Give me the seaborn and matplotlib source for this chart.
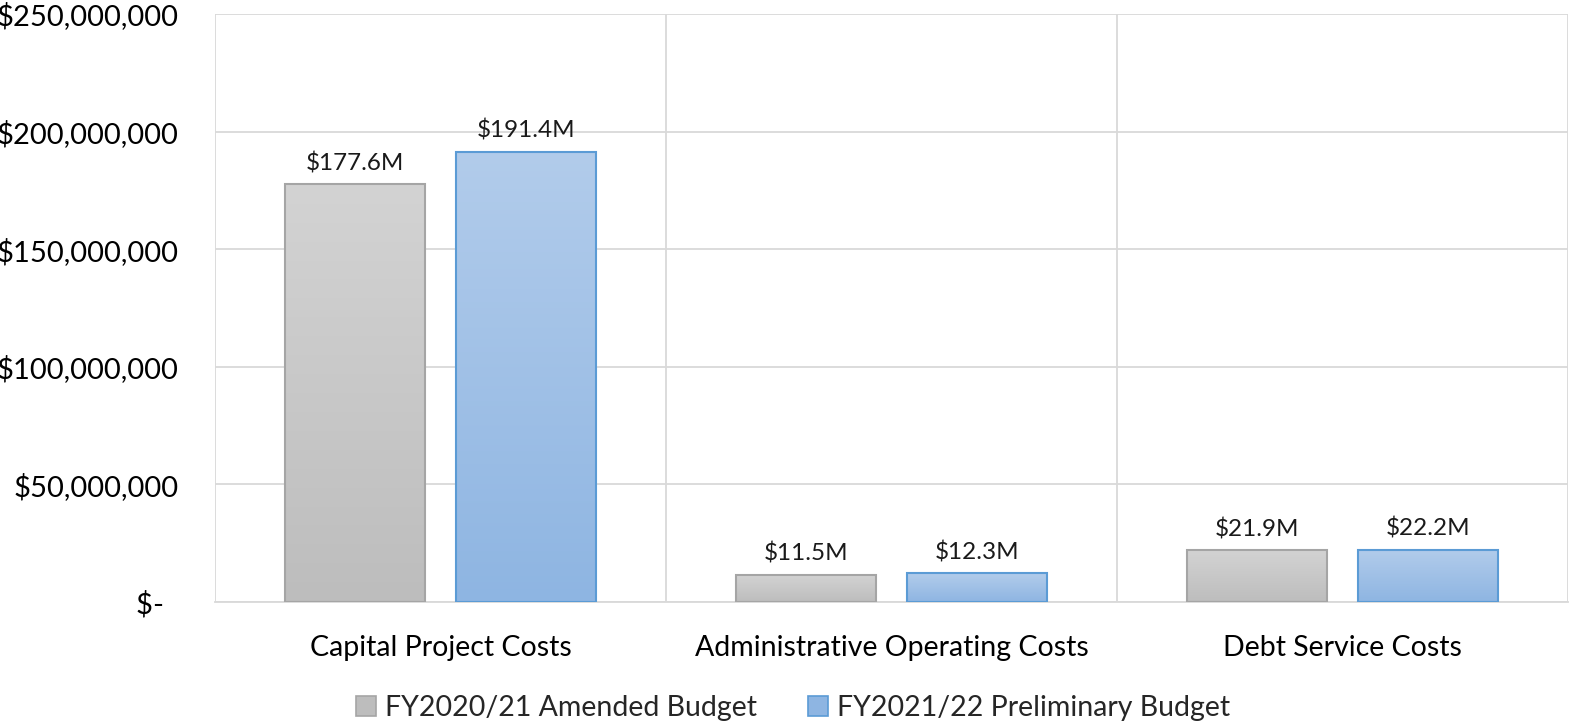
import numpy as np
import pandas as pd
import matplotlib
matplotlib.use("Agg")
import matplotlib.pyplot as plt
import seaborn as sns
from matplotlib.colors import LinearSegmentedColormap
from matplotlib.patches import Patch
from matplotlib.ticker import FixedLocator, FuncFormatter

categories = ["Capital Project Costs", "Administrative Operating Costs", "Debt Service Costs"]
series = ["FY2020/21 Amended Budget", "FY2021/22 Preliminary Budget"]
amended = [177.6e6, 11.5e6, 21.9e6]
preliminary = [191.4e6, 12.3e6, 22.2e6]
amended_labels = ["$177.6M", "$11.5M", "$21.9M"]
preliminary_labels = ["$191.4M", "$12.3M", "$22.2M"]
yticks = [0, 50e6, 100e6, 150e6, 200e6, 250e6]

df = pd.DataFrame({
    "category": categories * 2,
    "series": [series[0]] * 3 + [series[1]] * 3,
    "value": amended + preliminary,
})

sns.set_style("white")
plt.rcParams["font.family"] = ["Lato", "DejaVu Sans"]

fig = plt.figure(figsize=(15.76, 7.25), dpi=100)
ax = fig.add_axes([215 / 1576, 1 - 602 / 725, 1353 / 1576, 588 / 725])

face = ["#c8c8c8", "#a3c1e6"]
edge = ["#a5a5a5", "#5b9bd5"]
grads = [("#d3d3d3", "#bdbdbd"), ("#b2cceb", "#8eb5e2")]

sns.barplot(data=df, x="category", y="value", hue="series", order=categories,
            hue_order=series, palette=face, width=0.76, gap=0.18,
            edgecolor=None, linewidth=0, ax=ax, legend=False, zorder=3)

grad = np.linspace(0, 1, 256).reshape(-1, 1)
label_sets = [amended_labels, preliminary_labels]
for i, cont in enumerate(ax.containers):
    cmap = LinearSegmentedColormap.from_list(f"g{i}", [grads[i][1], grads[i][0]])
    for bar, lab in zip(cont, label_sets[i]):
        x0, y0, w, h = bar.get_x(), bar.get_y(), bar.get_width(), bar.get_height()
        im = ax.imshow(grad, extent=[x0, x0 + w, y0, y0 + h], origin="lower",
                       aspect="auto", cmap=cmap, zorder=3, interpolation="bilinear")
        im.set_clip_path(bar)
        bar.set_facecolor("none")
        bar.set_edgecolor(edge[i])
        bar.set_linewidth(1.5)
        bar.set_zorder(4)
        ax.annotate(lab, (x0 + w / 2, y0 + h), xytext=(0, 21), textcoords="offset pixels",
                    ha="center", va="center", fontsize=17.5, color="#1a1a1a")

ax.set_xlim(-0.5, 2.5)
ax.set_ylim(0, 250e6)
ax.set_aspect("auto")

ax.yaxis.set_major_locator(FixedLocator(yticks))
ax.yaxis.set_major_formatter(FuncFormatter(lambda v, p: "$-  " if v == 0 else f"${v:,.0f}"))
ax.xaxis.set_minor_locator(FixedLocator([-0.5, 0.5, 1.5, 2.5]))
ax.grid(axis="y", which="major", color="#d9d9d9", linewidth=1.3, zorder=0)
ax.grid(axis="x", which="minor", color="#d9d9d9", linewidth=1.3, zorder=0)
ax.grid(axis="x", which="major", visible=False)
ax.set_axisbelow(True)
for s in ["top", "right", "left"]:
    ax.spines[s].set_visible(False)
ax.spines["bottom"].set_color("#d9d9d9")
ax.spines["bottom"].set_linewidth(1.3)

ax.tick_params(axis="y", length=0, pad=26, labelsize=21, labelcolor="#000000")
ax.tick_params(axis="x", which="both", length=0, pad=24, labelsize=20.5, labelcolor="#000000")
ax.set_xlabel("")
ax.set_ylabel("")

handles = [Patch(facecolor=grads[i][1], edgecolor=edge[i], linewidth=1.2, label=series[i])
           for i in range(2)]
fig.legend(handles=handles, loc="center", bbox_to_anchor=(793 / 1576, 1 - 708 / 725),
           ncol=2, frameon=False, fontsize=20.5, handlelength=0.7, handleheight=0.7,
           handletextpad=0.3, columnspacing=1.8)

fig.savefig("out.png", dpi=100)
